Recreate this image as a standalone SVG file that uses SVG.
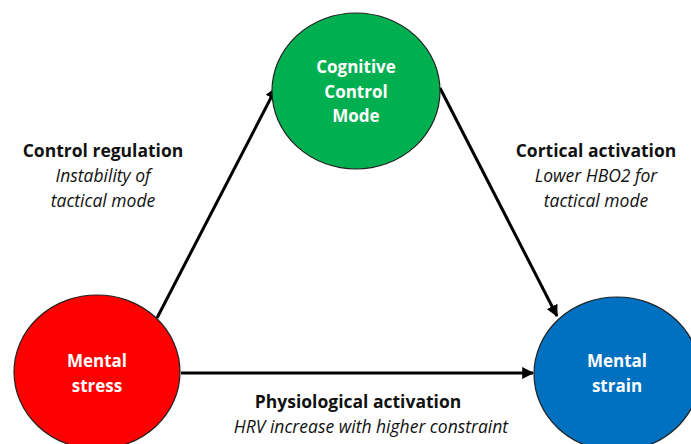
<svg xmlns="http://www.w3.org/2000/svg" width="691" height="444" viewBox="0 0 691 444">
<style>
.node{stroke:#222;stroke-width:1.2}
.nt{font-family:"Open Sans","Liberation Sans",sans-serif;font-weight:bold;font-size:17px;fill:#fff;text-anchor:middle}
.lb{font-family:"Open Sans","Liberation Sans",sans-serif;font-weight:bold;font-size:17.5px;fill:#111;text-anchor:middle}
.li{font-family:"Open Sans","Liberation Sans",sans-serif;font-style:italic;font-size:17.5px;fill:#111;text-anchor:middle}
.edge{stroke:#000;stroke-width:3;fill:none;marker-end:url(#ah)}
</style>
<defs>
<marker id="ah" viewBox="0 0 10 10" refX="9" refY="5" markerWidth="4" markerHeight="4" orient="auto" markerUnits="strokeWidth">
<path d="M0,0 L10,5 L0,10 z" fill="#000"/>
</marker>
</defs>
<rect width="691" height="444" fill="#fff"/>
<g id="connectors">
<line class="edge" x1="157" y1="318" x2="276" y2="88"/>
<line class="edge" x1="440" y1="88" x2="557" y2="316"/>
<line class="edge" x1="181" y1="373" x2="533" y2="373"/>
</g>
<g id="cognitive">
<ellipse class="node" cx="356" cy="91" rx="84" ry="78" fill="#00b050"/>
<text class="nt" x="356" y="73">Cognitive</text>
<text class="nt" x="356" y="98">Control</text>
<text class="nt" x="356" y="122">Mode</text>
</g>
<g id="stress">
<ellipse class="node" cx="97" cy="372" rx="83" ry="77" fill="#ff0000"/>
<text class="nt" x="97" y="367">Mental</text>
<text class="nt" x="97" y="392">stress</text>
</g>
<g id="strain">
<ellipse class="node" cx="617" cy="374" rx="83" ry="77" fill="#0070c0"/>
<text class="nt" x="617" y="367">Mental</text>
<text class="nt" x="617" y="392">strain</text>
</g>
<g id="label-control">
<text class="lb" x="103" y="157">Control regulation</text>
<text class="li" x="103" y="182">Instability of</text>
<text class="li" x="103" y="207">tactical mode</text>
</g>
<g id="label-cortical">
<text class="lb" x="596" y="157">Cortical activation</text>
<text class="li" x="596" y="182">Lower HBO2 for</text>
<text class="li" x="596" y="207">tactical mode</text>
</g>
<g id="label-physio">
<text class="lb" x="358" y="408">Physiological activation</text>
<text class="li" x="371" y="433">HRV increase with higher constraint</text>
</g>
</svg>
